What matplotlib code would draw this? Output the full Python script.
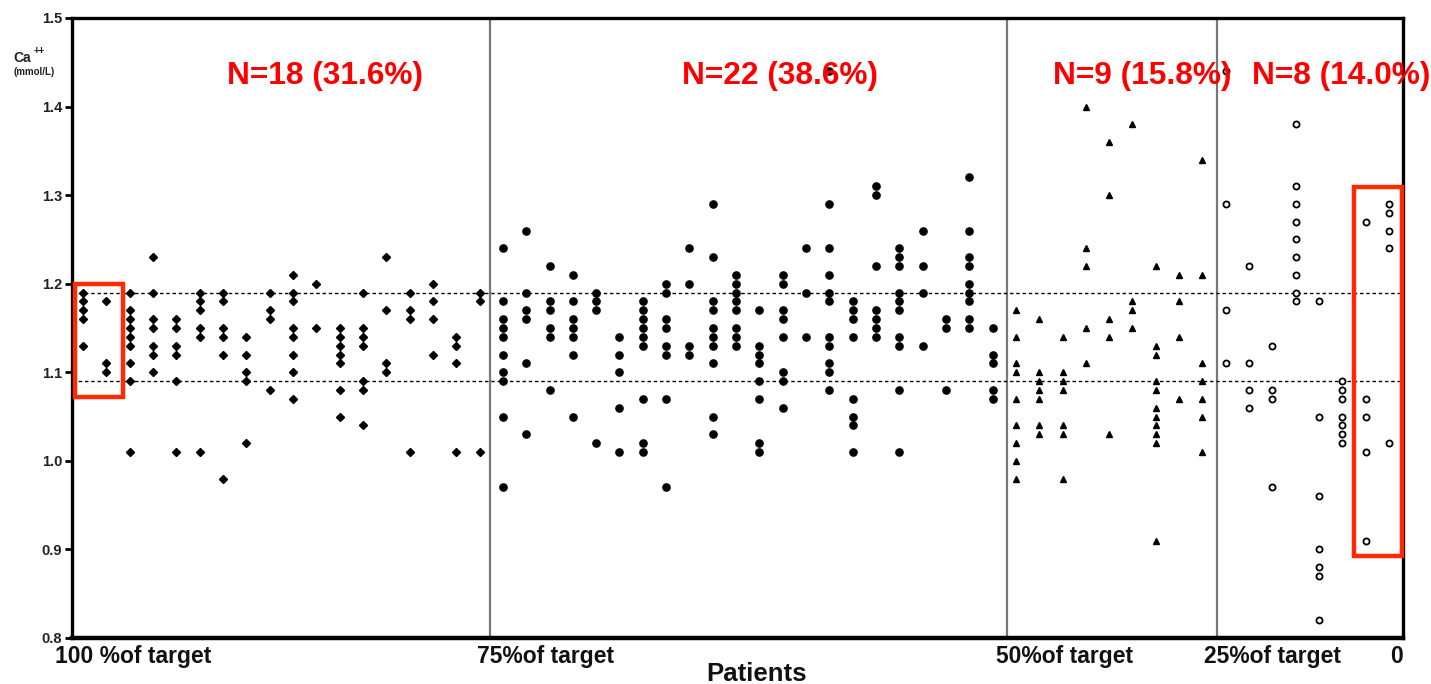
# Ionised calcium per patient, grouped by share of target reached
import numpy as np
import matplotlib.pyplot as plt
from matplotlib.patches import Rectangle

plt.rcParams['font.family'] = ['Liberation Sans', 'DejaVu Sans']

# Ca++ readings (mmol/L), one inner list per patient
target_100 = [
    [1.19, 1.18, 1.17, 1.16, 1.13],
    [1.18, 1.11, 1.10],
    [1.19, 1.17, 1.16, 1.15, 1.14, 1.13, 1.11, 1.09, 1.01],
    [1.23, 1.19, 1.16, 1.15, 1.13, 1.12, 1.10],
    [1.16, 1.15, 1.13, 1.12, 1.09, 1.01],
    [1.19, 1.18, 1.17, 1.15, 1.14, 1.01],
    [1.19, 1.18, 1.15, 1.14, 1.12, 0.98],
    [1.14, 1.12, 1.10, 1.09, 1.02],
    [1.19, 1.17, 1.16, 1.08],
    [1.21, 1.19, 1.18, 1.15, 1.14, 1.12, 1.10, 1.07],
    [1.20, 1.15],
    [1.15, 1.14, 1.13, 1.12, 1.11, 1.08, 1.05],
    [1.19, 1.15, 1.14, 1.13, 1.09, 1.08, 1.04],
    [1.23, 1.17, 1.11, 1.10],
    [1.19, 1.17, 1.16, 1.01],
    [1.20, 1.18, 1.16, 1.12],
    [1.14, 1.13, 1.11, 1.01],
    [1.19, 1.18, 1.01],
]
target_75 = [
    [1.24, 1.18, 1.16, 1.15, 1.14, 1.12, 1.10, 1.09, 1.05, 0.97],
    [1.26, 1.19, 1.17, 1.16, 1.11, 1.03],
    [1.22, 1.18, 1.17, 1.15, 1.14, 1.08],
    [1.21, 1.18, 1.16, 1.15, 1.14, 1.12, 1.05],
    [1.19, 1.18, 1.17, 1.02],
    [1.14, 1.12, 1.10, 1.06, 1.01],
    [1.18, 1.17, 1.16, 1.15, 1.14, 1.13, 1.07, 1.02, 1.01],
    [1.20, 1.19, 1.16, 1.15, 1.13, 1.12, 1.07, 0.97],
    [1.24, 1.20, 1.13, 1.12],
    [1.29, 1.23, 1.18, 1.17, 1.15, 1.14, 1.13, 1.11, 1.05, 1.03],
    [1.21, 1.20, 1.19, 1.18, 1.17, 1.15, 1.14, 1.13],
    [1.17, 1.13, 1.12, 1.11, 1.09, 1.07, 1.02, 1.01],
    [1.21, 1.20, 1.17, 1.16, 1.14, 1.10, 1.09, 1.06],
    [1.24, 1.19, 1.14],
    [1.44, 1.29, 1.24, 1.21, 1.19, 1.18, 1.14, 1.13, 1.11, 1.10, 1.08],
    [1.18, 1.17, 1.16, 1.14, 1.07, 1.05, 1.04, 1.01],
    [1.31, 1.30, 1.22, 1.17, 1.16, 1.15, 1.14],
    [1.24, 1.23, 1.22, 1.19, 1.18, 1.17, 1.14, 1.13, 1.08, 1.01],
    [1.26, 1.22, 1.19, 1.13],
    [1.16, 1.15, 1.08],
    [1.32, 1.26, 1.23, 1.22, 1.20, 1.19, 1.18, 1.16, 1.15],
    [1.15, 1.12, 1.11, 1.08, 1.07],
]
target_50 = [
    [1.17, 1.14, 1.11, 1.10, 1.07, 1.04, 1.02, 1.00, 0.98],
    [1.16, 1.10, 1.09, 1.08, 1.07, 1.04, 1.03],
    [1.14, 1.10, 1.09, 1.08, 1.04, 1.03, 0.98],
    [1.40, 1.24, 1.22, 1.15, 1.11],
    [1.36, 1.30, 1.16, 1.14, 1.03],
    [1.38, 1.18, 1.17, 1.15],
    [1.22, 1.13, 1.12, 1.09, 1.08, 1.06, 1.05, 1.04, 1.03, 1.02, 0.91],
    [1.21, 1.18, 1.14, 1.07],
    [1.34, 1.21, 1.11, 1.09, 1.07, 1.05, 1.01],
]
target_25 = [
    [1.44, 1.29, 1.17, 1.11],
    [1.22, 1.11, 1.08, 1.06],
    [1.13, 1.08, 1.07, 0.97],
    [1.38, 1.31, 1.29, 1.27, 1.25, 1.23, 1.21, 1.19, 1.18],
    [1.18, 1.05, 0.96, 0.90, 0.88, 0.87, 0.82],
    [1.09, 1.08, 1.07, 1.05, 1.04, 1.03, 1.02],
    [1.27, 1.07, 1.05, 1.01, 0.91],
    [1.29, 1.28, 1.26, 1.24, 1.02],
]

group_labels = ['N=18 (31.6%)', 'N=22 (38.6%)', 'N=9 (15.8%)', 'N=8 (14.0%)']
tick_labels = ['100 %of target', '75%of target', '50%of target', '25%of target', '0']
normal_range = [1.09, 1.19]

fig = plt.figure(figsize=(14.31, 6.84), dpi=100)
ax = fig.add_axes([0.0503, 0.0673, 0.9301, 0.9064])

styles = [
    dict(marker='D', ms=3.6, mfc='black', mec='black'),
    dict(marker='o', ms=5.2, mfc='black', mec='black'),
    dict(marker='^', ms=5.0, mfc='black', mec='black'),
    dict(marker='o', ms=4.4, mfc='white', mec='black', mew=1.3),
]

patient = 1
for group, style in zip([target_100, target_75, target_50, target_25], styles):
    for values in group:
        ax.plot([patient] * len(values), values, ls='none', zorder=3, **style)
        patient += 1

# group separators and normal-range lines
for xv in [18.45, 40.6, 49.64]:
    ax.axvline(xv, color='#777777', lw=1.6, zorder=1)
for yv in normal_range:
    ax.axhline(yv, color='black', lw=1.0, ls=(0, (2.5, 2)), zorder=2)

ax.set_xlim(0.52, 57.6)
ax.set_ylim(0.8, 1.5)
ax.set_yticks(np.arange(0.8, 1.51, 0.1))
ax.set_yticklabels([f'{v:.1f}' for v in np.arange(0.8, 1.51, 0.1)],
                   fontsize=10.5, fontweight='bold', color='#222222')
ax.tick_params(axis='y', direction='out', length=5, width=2, pad=2)
ax.set_xticks([])
for side in ['left', 'top', 'right']:
    ax.spines[side].set_linewidth(2.4)
ax.spines['bottom'].set_linewidth(3.2)

# x labels under the axis
label_x = [-0.21, 17.9, 40.13, 49.05, 57.34]
label_ha = ['left', 'left', 'left', 'left', 'center']
for xv, txt, ha in zip(label_x, tick_labels, label_ha):
    ax.text(xv, -0.012, txt, transform=ax.get_xaxis_transform(), ha=ha, va='top',
            fontsize=16.5, fontweight='bold', color='#111111')
fig.text(0.529, 0.014, 'Patients', ha='center', va='center', fontsize=18.5,
         fontweight='bold', color='#111111')

# y label
fig.text(0.0091, 0.9152, 'Ca', ha='left', va='center', fontsize=10, fontweight='bold',
         color='#222222')
fig.text(0.0236, 0.926, '++', ha='left', va='center', fontsize=7, fontweight='bold',
         color='#222222')
fig.text(0.0091, 0.8947, '(mmol/L)', ha='left', va='center', fontsize=7,
         fontweight='bold', color='#222222')

# group sizes
for xv, txt in zip([11.35, 30.9, 46.42, 54.94], group_labels):
    ax.text(xv, 1.434, txt, ha='center', va='center', fontsize=22.8,
            fontweight='bold', color='#ff0000', zorder=5, clip_on=False)

# highlighted columns
for (x0, x1, y0, y1) in [(0.64, 2.7, 1.072, 1.2), (55.5, 57.58, 0.8925, 1.309)]:
    ax.add_patch(Rectangle((x0, y0), x1 - x0, y1 - y0, fill=False,
                           edgecolor='#ff2a00', lw=3.2, zorder=6, clip_on=False))

fig.savefig('out.png', dpi=100)
